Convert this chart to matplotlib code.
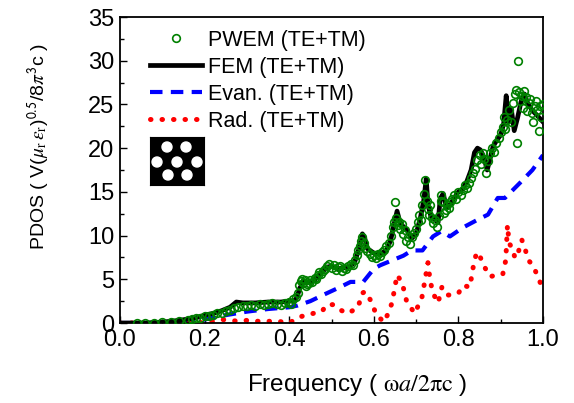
import numpy as np
import matplotlib.pyplot as plt
from matplotlib.patches import Circle

plt.rcParams['font.family'] = ['Liberation Sans', 'DejaVu Sans']
plt.rcParams['mathtext.fontset'] = 'stix'

# FEM (TE+TM), black line
fem_freq = [0.00, 0.06, 0.10, 0.14, 0.18, 0.20, 0.22, 0.24, 0.26, 0.275, 0.29, 0.32, 0.35, 0.38,
            0.40, 0.415, 0.42, 0.425, 0.435, 0.45, 0.46, 0.475, 0.49, 0.50, 0.515, 0.53, 0.545,
            0.555, 0.565, 0.573, 0.578, 0.585, 0.60, 0.615, 0.63, 0.64, 0.648, 0.655, 0.662, 0.67,
            0.68, 0.69, 0.70, 0.71, 0.718, 0.724, 0.728, 0.735, 0.745, 0.752, 0.757, 0.764, 0.772,
            0.78, 0.79, 0.80, 0.81, 0.82, 0.83, 0.838, 0.845, 0.852, 0.86, 0.868, 0.875, 0.882,
            0.892, 0.90, 0.907, 0.913, 0.918, 0.925, 0.932, 0.94, 0.948, 0.956, 0.965, 0.975,
            0.985, 1.0]
fem_pdos = [0.0, 0.0, 0.1, 0.3, 0.6, 0.9, 1.1, 1.4, 1.8, 2.4, 2.3, 2.3, 2.4, 2.4,
            2.5, 2.6, 3.2, 4.0, 4.7, 4.6, 4.9, 5.7, 6.4, 6.5, 6.2, 6.3, 6.5,
            7.0, 8.5, 10.2, 9.8, 8.5, 8.0, 7.9, 8.3, 9.5, 11.3, 12.8, 11.5, 11.0,
            10.5, 9.7, 10.2, 12.0, 14.0, 16.5, 13.5, 12.2, 11.8, 11.5, 14.2, 14.8, 13.2,
            13.5, 14.3, 15.0, 15.3, 16.2, 17.5, 19.5, 20.0, 19.8, 19.0, 17.5, 18.8, 20.2,
            21.0, 21.5, 22.8, 26.0, 23.0, 24.5, 22.0, 23.5, 25.3, 26.2, 25.0, 24.3,
            23.8, 23.0]

# PWEM (TE+TM), green open circles
pwem_freq = [0.04, 0.06, 0.08, 0.10, 0.12, 0.14, 0.16, 0.17, 0.18, 0.19, 0.20, 0.21, 0.22, 0.23,
             0.24, 0.25, 0.26, 0.27, 0.28, 0.29, 0.30, 0.31, 0.32, 0.33, 0.34, 0.35, 0.36, 0.37,
             0.38, 0.39, 0.40, 0.405, 0.41, 0.415, 0.42, 0.423, 0.427, 0.43, 0.433, 0.437, 0.44,
             0.443, 0.447, 0.45, 0.455, 0.46, 0.463, 0.467, 0.47, 0.475, 0.48, 0.485, 0.49, 0.495,
             0.50, 0.505, 0.51, 0.515, 0.52, 0.525, 0.53, 0.535, 0.54, 0.545, 0.55, 0.555, 0.56,
             0.563, 0.567, 0.57, 0.573, 0.577, 0.58, 0.585, 0.59, 0.595, 0.60, 0.605, 0.61, 0.615,
             0.62, 0.625, 0.63, 0.635, 0.64, 0.645, 0.648, 0.65, 0.653, 0.657, 0.66, 0.663, 0.667,
             0.67, 0.673, 0.677, 0.68, 0.685, 0.69, 0.695, 0.70, 0.705, 0.708, 0.712, 0.715, 0.718,
             0.722, 0.725, 0.728, 0.73, 0.733, 0.737, 0.74, 0.745, 0.75, 0.755, 0.758, 0.76, 0.763,
             0.767, 0.77, 0.773, 0.777, 0.78, 0.785, 0.79, 0.795, 0.80, 0.805, 0.81, 0.815, 0.82,
             0.825, 0.83, 0.835, 0.84, 0.845, 0.85, 0.853, 0.857, 0.86, 0.865, 0.87, 0.875, 0.88,
             0.885, 0.89, 0.895, 0.90, 0.905, 0.908, 0.91, 0.915, 0.92, 0.925, 0.93, 0.933, 0.936,
             0.938, 0.941, 0.943, 0.946, 0.95, 0.953, 0.956, 0.96, 0.963, 0.966, 0.97, 0.973,
             0.976, 0.98, 0.983, 0.986, 0.99, 0.993, 0.996, 1.0]
pwem_pdos = [0.0, 0.0, 0.05, 0.1, 0.15, 0.25, 0.35, 0.5, 0.55, 0.6, 0.75, 0.85, 0.95, 1.1,
             1.2, 1.35, 1.5, 1.7, 1.85, 1.9, 2.0, 2.1, 2.0, 2.15, 2.1, 2.2, 2.25, 2.2,
             2.1, 2.3, 2.4, 2.2, 2.7, 3.0, 3.4, 4.3, 4.8, 5.0, 4.6, 4.9, 4.2,
             4.5, 4.6, 4.9, 4.7, 5.2, 5.0, 5.5, 5.8, 5.6, 6.0, 6.2, 6.5, 6.8,
             6.3, 6.6, 6.1, 6.4, 6.5, 6.0, 6.3, 6.2, 6.5, 6.8, 6.6, 7.2, 7.8,
             8.3, 8.8, 9.4, 9.8, 9.2, 8.6, 8.2, 7.9, 7.6, 7.8, 7.4, 7.9, 7.7,
             8.1, 8.4, 8.8, 9.2, 10.0, 11.0, 11.6, 13.8, 12.0, 11.2, 11.5, 10.7, 11.3,
             10.2, 10.6, 9.4, 9.8, 9.0, 9.8, 10.3, 10.8, 11.5, 12.3, 11.8, 13.5, 14.8,
             16.4, 14.0, 13.0, 12.4, 13.5, 12.0, 11.4, 11.8, 11.0, 12.2, 14.0, 14.6, 13.8,
             12.6, 12.9, 13.5, 13.2, 13.8, 14.2, 14.6, 14.2, 15.0, 14.6, 15.2, 15.8, 15.4,
             16.0, 16.6, 17.2, 17.6, 18.6, 19.2, 18.2, 19.4, 18.8, 17.2, 18.5, 19.4, 20.0,
             19.6, 20.6, 21.2, 21.8, 22.4, 23.6, 22.2, 23.2, 24.4, 23.0, 25.2, 26.2, 26.6,
             20.6, 30.0, 26.4, 25.4, 26.0, 24.6, 26.5, 25.8, 24.2, 25.2, 25.6, 24.0,
             23.0, 24.8, 25.4, 24.4, 22.0, 24.8, 23.6, 25.0]

# Evanescent part, blue dashed
evan_freq = [0.0, 0.1, 0.15, 0.2, 0.25, 0.3, 0.35, 0.4, 0.42, 0.45, 0.48, 0.52, 0.545, 0.575,
             0.60, 0.615, 0.645, 0.67, 0.69, 0.715, 0.74, 0.76, 0.78, 0.81, 0.845, 0.87, 0.893,
             0.91, 0.945, 0.975, 1.0]
evan_pdos = [0.0, 0.0, 0.1, 0.4, 0.9, 1.3, 1.6, 1.8, 2.0, 2.5, 3.2, 4.1, 4.7, 4.7,
             6.2, 6.6, 7.2, 7.7, 8.3, 8.3, 9.9, 10.5, 9.9, 10.9, 11.8, 12.4, 14.3,
             14.3, 16.0, 17.5, 19.2]

# Radiative part, red dotted
rad_freq = [0.0, 0.18, 0.2, 0.22, 0.24, 0.26, 0.28, 0.30, 0.32, 0.35, 0.38, 0.40, 0.425, 0.457,
            0.477, 0.489, 0.504, 0.52, 0.539, 0.563, 0.572, 0.58, 0.596, 0.605, 0.624, 0.634,
            0.643, 0.648, 0.655, 0.667, 0.678, 0.697, 0.714, 0.721, 0.728, 0.733, 0.74, 0.752,
            0.761, 0.773, 0.785, 0.80, 0.811, 0.827, 0.835, 0.843, 0.851, 0.863, 0.875, 0.891,
            0.905, 0.912, 0.916, 0.92, 0.927, 0.934, 0.941, 0.95, 0.957, 0.965, 0.976, 0.988, 1.0]
rad_pdos = [0.0, 0.0, 0.1, 0.2, 0.4, 0.3, 0.2, 0.3, 0.2, 0.2, 0.15, 0.0, 0.7, 1.1,
            1.3, 2.1, 2.1, 1.5, 1.1, 1.8, 3.4, 3.6, 2.3, 1.0, 0.1, 1.1,
            2.3, 3.6, 5.5, 4.6, 2.4, 1.1, 3.0, 4.9, 6.9, 4.9, 3.4, 2.3,
            4.1, 3.2, 3.2, 3.4, 4.3, 4.1, 6.4, 8.1, 7.6, 6.3, 5.3, 5.5,
            5.6, 7.2, 11.2, 9.1, 8.6, 7.4, 8.0, 9.5, 8.6, 7.2, 6.6, 5.3, 3.8]

labels = ['PWEM (TE+TM)', 'FEM (TE+TM)', 'Evan. (TE+TM)', 'Rad. (TE+TM)']

fig = plt.figure(figsize=(5.74, 4.03), dpi=100)
ax = fig.add_axes([120/574, 80/403, 423/574, 306/403])

l_fem, = ax.plot(fem_freq, fem_pdos, '-', color='black', lw=3.4, zorder=3)
l_evan, = ax.plot(evan_freq, evan_pdos, color='blue', lw=3, dashes=(3, 2), zorder=2)
l_rad, = ax.plot(rad_freq, rad_pdos, color='red', lw=3.6, linestyle=(0, (0.1, 2.2)),
                 dash_capstyle='round', zorder=2)
l_pwem, = ax.plot(pwem_freq, pwem_pdos, 'o', mfc='none', mec='green', mew=1.2, ms=5.5,
                  zorder=4)

ax.set_xlim(0, 1)
ax.set_ylim(0, 35)
ax.set_xticks(np.arange(0, 1.01, 0.2))
ax.set_xticks(np.arange(0.1, 1.0, 0.2), minor=True)
ax.set_yticks(np.arange(0, 36, 5))
ax.set_yticks(np.arange(2.5, 35, 5), minor=True)
ax.xaxis.set_major_formatter(plt.FormatStrFormatter('%.1f'))
ax.tick_params(which='both', direction='in', labelsize=17, width=1)
ax.tick_params(which='major', length=5)
ax.tick_params(which='minor', length=3)
ax.tick_params(axis='x', pad=4)
ax.tick_params(axis='y', pad=4)
for s in ax.spines.values():
    s.set_linewidth(1.3)

ax.set_xlabel(r'Frequency ( $\mathrm{\omega}\mathit{a}/\mathrm{2\pi c}$ )', fontsize=17.5)
ax.xaxis.set_label_coords(0.56, -0.16)
ax.set_ylabel(r'PDOS ( V($\mu_\mathrm{r}\,\varepsilon_\mathrm{r}$)$^{\mathsf{0.5}}$/8$\pi^{\mathsf{3}}$c )',
              fontsize=14)
ax.yaxis.set_label_coords(-0.16, 0.575)

ax.legend([l_pwem, l_fem, l_evan, l_rad], labels, loc='upper left',
          bbox_to_anchor=(0.072, 0.958), frameon=False, fontsize=15.5, numpoints=1,
          handlelength=2.4, handletextpad=0.25, labelspacing=0.28, borderpad=0,
          borderaxespad=0)

# inset: unit cell sketch, black slab with hexagonal air holes
holes_x = [17, 36, 7, 27, 47, 18, 37]
holes_y = [38, 38, 23, 23, 23, 10, 10]
ins = fig.add_axes([150/574, 1 - 185/403, 54/574, 48/403])
ins.set_facecolor('black')
ins.set_xlim(0, 54)
ins.set_ylim(0, 48)
for hx, hy in zip(holes_x, holes_y):
    ins.add_patch(Circle((hx, hy), 5, color='white'))
ins.set_xticks([])
ins.set_yticks([])

fig.savefig('out.png', dpi=100)
